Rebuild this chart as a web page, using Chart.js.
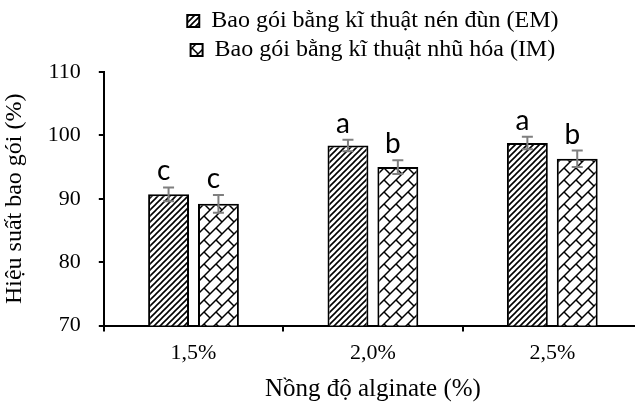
<!DOCTYPE html>
<html>
<head>
<meta charset="utf-8">
<script src="https://cdn.jsdelivr.net/npm/chart.js@4.4.1/dist/chart.umd.min.js"></script>
<style>
  html, body { margin: 0; padding: 0; background: #fff; }
  #wrap { width: 635px; height: 404px; overflow: hidden; position: relative; }
  canvas { display: block; }
</style>
</head>
<body>
<div id="wrap"><canvas id="c" width="642" height="404"></canvas></div>
<script>
// ---- data ----
const categories = ['1,5%', '2,0%', '2,5%'];
const seriesNames = ['Bao gói bằng kĩ thuật nén đùn (EM)', 'Bao gói bằng kĩ thuật nhũ hóa (IM)'];
const emValues = [90.7, 98.4, 98.8];
const imValues = [89.2, 95.0, 96.3];
const emErrors = [1.1, 0.9, 1.0];
const imErrors = [1.4, 1.1, 1.3];
const emLetters = ['c', 'a', 'a'];
const imLetters = ['c', 'b', 'b'];
const yTicks = [70, 80, 90, 100, 110];

// ---- patterns ----
function hatchPattern() {
  const s = 6, cv = document.createElement('canvas');
  cv.width = s; cv.height = s;
  const g = cv.getContext('2d');
  g.fillStyle = '#fff'; g.fillRect(0, 0, s, s);
  g.strokeStyle = '#000'; g.lineWidth = 1.6; g.lineCap = 'square';
  g.beginPath();
  g.moveTo(-1, s + 1); g.lineTo(s + 1, -1);
  g.moveTo(-1, 1); g.lineTo(1, -1);
  g.moveTo(s - 1, s + 1); g.lineTo(s + 1, s - 1);
  g.stroke();
  return g.createPattern(cv, 'repeat');
}
function weavePattern() {
  const s = 12, cv = document.createElement('canvas');
  cv.width = s; cv.height = s;
  const g = cv.getContext('2d');
  g.fillStyle = '#fff'; g.fillRect(0, 0, s, s);
  g.strokeStyle = '#000'; g.lineWidth = 1.5;
  g.beginPath();
  g.moveTo(-1, s + 1); g.lineTo(s + 1, -1);
  g.moveTo(-1, 1); g.lineTo(1, -1);
  g.moveTo(s - 1, s + 1); g.lineTo(s + 1, s - 1);
  g.moveTo(0, 0); g.lineTo(s / 2, s / 2);
  g.stroke();
  return g.createPattern(cv, 'repeat');
}

const serif = "'Liberation Serif', 'Times New Roman', serif";

// ---- error bars and letters ----
const errorPlugin = {
  id: 'errs',
  afterDatasetsDraw(chart) {
    const ctx = chart.ctx, y = chart.scales.y;
    const errs = [emErrors, imErrors];
    const letters = [emLetters, imLetters];
    chart.data.datasets.forEach((ds, di) => {
      const meta = chart.getDatasetMeta(di);
      meta.data.forEach((bar, i) => {
        const v = ds.data[i], e = errs[di][i];
        const yt = y.getPixelForValue(v + e), yb = y.getPixelForValue(v - e);
        const x = bar.x;
        ctx.save();
        ctx.strokeStyle = '#7f7f7f'; ctx.lineWidth = 2;
        ctx.beginPath();
        ctx.moveTo(x, yt); ctx.lineTo(x, yb);
        ctx.moveTo(x - 5.5, yt); ctx.lineTo(x + 5.5, yt);
        ctx.moveTo(x - 5.5, yb); ctx.lineTo(x + 5.5, yb);
        ctx.stroke();
        ctx.fillStyle = '#000';
        ctx.font = "28px Lato, 'Open Sans', sans-serif";
        ctx.textAlign = 'center';
        ctx.textBaseline = 'alphabetic';
        ctx.fillText(letters[di][i], x - 5, yt - 7);
        ctx.restore();
      });
    });
  }
};

const ctx = document.getElementById('c').getContext('2d');
new Chart(ctx, {
  type: 'bar',
  data: {
    labels: categories,
    datasets: [
      { label: seriesNames[0], data: emValues, backgroundColor: hatchPattern(), borderColor: '#000', borderWidth: 2,
        categoryPercentage: 0.556, barPercentage: 0.82 },
      { label: seriesNames[1], data: imValues, backgroundColor: weavePattern(), borderColor: '#000', borderWidth: 2,
        categoryPercentage: 0.556, barPercentage: 0.82 }
    ]
  },
  options: {
    responsive: false,
    animation: false,
    layout: { padding: { top: 4, left: 0, right: 0, bottom: 0 } },
    plugins: {
      tooltip: { enabled: false },
      legend: {
        position: 'top',
        fullSize: false,
        labels: {
          color: '#000',
          font: { family: serif, size: 24 },
          boxWidth: 12, boxHeight: 12,
          padding: 5
        }
      }
    },
    scales: {
      x: {
        grid: { display: true, drawOnChartArea: false, drawTicks: true, tickLength: 6, color: '#000', lineWidth: 2, offset: true },
        border: { color: '#000', width: 2 },
        ticks: { color: '#000', font: { family: serif, size: 22 }, padding: 8 },
        title: { display: true, text: 'Nồng độ alginate (%)', color: '#000', font: { family: serif, size: 25 }, padding: { top: 0, bottom: 0 } }
      },
      y: {
        min: 70, max: 110,
        afterBuildTicks(scale) { scale.ticks = yTicks.map(v => ({ value: v })); },
        grid: { display: true, drawOnChartArea: false, drawTicks: true, tickLength: 5, color: '#000', lineWidth: 2 },
        border: { color: '#000', width: 2 },
        ticks: { color: '#000', font: { family: serif, size: 22 }, padding: 18 },
        title: { display: true, text: 'Hiệu suất bao gói (%)', color: '#000', font: { family: serif, size: 24 }, padding: { top: 0, bottom: 1 } }
      }
    }
  },
  plugins: [errorPlugin]
});
</script>
</body>
</html>
